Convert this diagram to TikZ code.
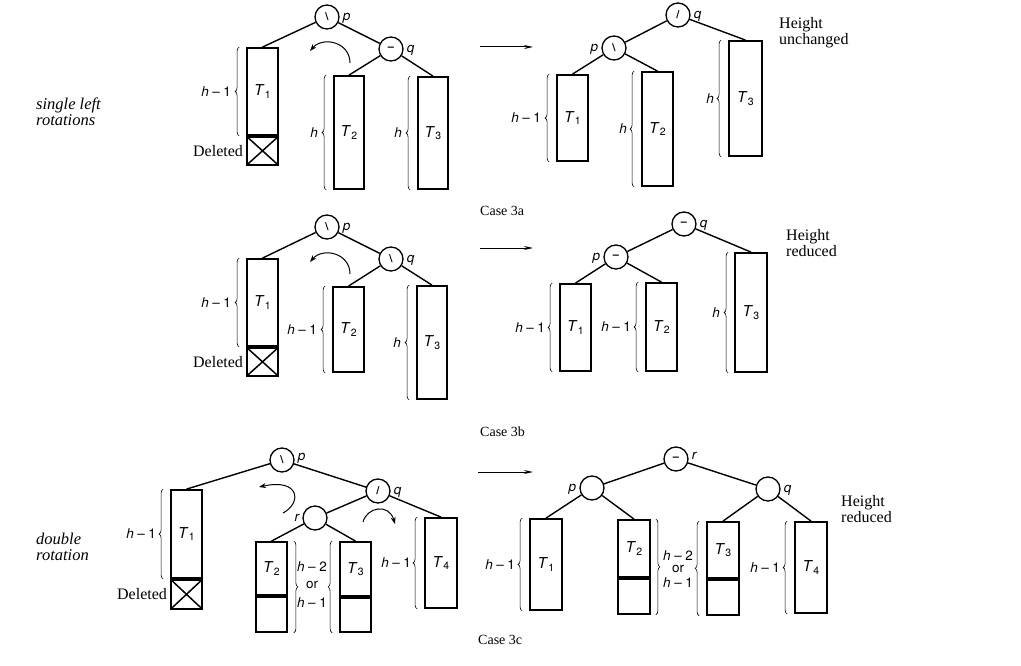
\documentclass[tikz,border=0pt]{standalone}
\usepackage{fontspec}
\setmainfont{Liberation Serif}
\setsansfont{TeX Gyre Heros}
\usetikzlibrary{arrows.meta,decorations.pathreplacing}
\newcommand\Tl[1]{\textit{T}\kern0.3pt\raisebox{-2.5pt}{\fontsize{10.5}{10.5}\selectfont #1}}
\newcommand\hm[1]{\textit{h}\hspace{3.5pt}\textendash\hspace{3.5pt}#1}
\begin{document}
\begin{tikzpicture}[x=1pt,y=-1pt,
 nd/.style={circle,draw,line width=1.3pt,minimum size=24pt,inner sep=0pt,font=\sffamily\bfseries\fontsize{11}{11}\selectfont},
 tb/.style={draw,line width=1.8pt,minimum width=31pt,inner sep=0pt,font=\sffamily\fontsize{15}{15}\selectfont},
 db/.style={draw,line width=1.8pt,minimum width=31pt,inner sep=0pt,
   path picture={\draw[line width=1.5pt] (path picture bounding box.north west) -- (path picture bounding box.south east)
     (path picture bounding box.north east) -- (path picture bounding box.south west);}},
 ed/.style={line width=1.4pt},
 brc/.style={decorate,decoration={brace,amplitude=4pt},line width=0.6pt},
 lbl/.style={font=\sffamily\fontsize{13.5}{13.5}\selectfont,inner sep=0pt},
 nl/.style={font=\sffamily\itshape\fontsize{13.5}{13.5}\selectfont,inner sep=0pt},
 stx/.style={font=\fontsize{16}{16}\selectfont,align=left,inner sep=0pt},
 cse/.style={font=\fontsize{14}{14}\selectfont,inner sep=0pt},
 side/.style={font=\itshape\fontsize{16.5}{16}\selectfont,align=left,inner sep=0pt},
 del/.style={font=\fontsize{16}{16}\selectfont,inner sep=0pt},
 rot/.style={line width=1pt,-{Stealth[length=7pt,width=5pt]}},
 mv/.style={line width=1pt,-{Stealth[length=9pt,width=4pt]}}
]
\useasboundingbox (0,0) rectangle (1021,666);

% ---------------- side labels
\node[side,anchor=north west] (sl) at (36,98) {single left\\rotations};
\node[side,anchor=north west] (dr) at (36,533) {double\\rotation};

% ================= Case 3a, left
\node[nd] (p1) at (327,17) {\textbackslash};
\node[nd] (q1) at (391,49) {\textendash};
\node[nl,anchor=base west] (lp1) at ([xshift=3pt,yshift=-3.5pt]p1.east) {p};
\node[nl,anchor=base west] (lq1) at ([xshift=3pt,yshift=-3.5pt]q1.east) {q};
\node[tb,minimum height=87pt] (T1a) at (262.5,91.5) {\Tl1};
\node[db,minimum height=28pt,anchor=north] (D1) at (T1a.south) {};
\node[tb,minimum height=113pt,minimum width=30pt] (T2a) at (349,132.5) {\Tl2};
\node[tb,minimum height=112pt,minimum width=30pt] (T3a) at (433,133) {\Tl3};
\draw[ed] (p1) -- (T1a.north);
\draw[ed] (p1) -- (q1);
\draw[ed] (q1) -- (T2a.north);
\draw[ed] (q1) -- (T3a.north);
\draw[brc] ([xshift=-7pt]T1a.south west) -- ([xshift=-7pt]T1a.north west);
\draw[brc] ([xshift=-7pt]T2a.south west) -- ([xshift=-7pt]T2a.north west);
\draw[brc] ([xshift=-7pt]T3a.south west) -- ([xshift=-7pt]T3a.north west);
\node[lbl,anchor=east] (h1a) at ([xshift=-15pt]T1a.west) {\hm1};
\node[lbl,anchor=east] (h2a) at ([xshift=-15pt]T2a.west) {\textit{h}};
\node[lbl,anchor=east] (h3a) at ([xshift=-15pt]T3a.west) {\textit{h}};
\node[del,anchor=east] (dl1) at ([xshift=-3pt]D1.west) {Deleted};
\draw[rot] (350,63) .. controls (350,42) and (323,36) .. (310,51);
\coordinate (a1s) at (480,47);
\coordinate (a1e) at (533,47);
\draw[mv] (a1s) -- (a1e);

% ================= Case 3a, right
\node[nd] (q2) at (678,15) {/};
\node[nd] (p2) at (614,48) {\textbackslash};
\node[nl,anchor=base west] (lq2) at ([xshift=3pt,yshift=-3.5pt]q2.east) {q};
\node[nl,anchor=base east] (lp2) at ([xshift=-3pt,yshift=-3.5pt]p2.west) {p};
\node[tb,minimum height=86pt] (T1b) at (572.5,118) {\Tl1};
\node[tb,minimum height=114pt] (T2b) at (657.5,129) {\Tl2};
\node[tb,minimum height=115pt,minimum width=33pt] (T3b) at (745.5,98.5) {\Tl3};
\draw[ed] (q2) -- (p2);
\draw[ed] (p2) -- (T1b.north);
\draw[ed] (p2) -- (T2b.north);
\draw[ed] (q2) -- (T3b.north);
\draw[brc] ([xshift=-7pt]T1b.south west) -- ([xshift=-7pt]T1b.north west);
\draw[brc] ([xshift=-7pt]T2b.south west) -- ([xshift=-7pt]T2b.north west);
\draw[brc] ([xshift=-7pt]T3b.south west) -- ([xshift=-7pt]T3b.north west);
\node[lbl,anchor=east] (h1b) at ([xshift=-15pt]T1b.west) {\hm1};
\node[lbl,anchor=east] (h2b) at ([xshift=-14pt]T2b.west) {\textit{h}};
\node[lbl,anchor=east] (h3b) at ([xshift=-14pt]T3b.west) {\textit{h}};
\node[stx,anchor=north west] (hu) at (779,17) {Height\\unchanged};
\node[cse,anchor=west] (c3a) at (480,211) {Case 3a};

% ================= Case 3b, left
\node[nd] (p3) at (327,227) {\textbackslash};
\node[nd] (q3) at (391,259) {\textbackslash};
\node[nl,anchor=base west] (lp3) at ([xshift=3pt,yshift=-3.5pt]p3.east) {p};
\node[nl,anchor=base west] (lq3) at ([xshift=3pt,yshift=-3.5pt]q3.east) {q};
\node[tb,minimum height=87pt] (T1c) at (262.5,302.5) {\Tl1};
\node[db,minimum height=28pt,anchor=north] (D3) at (T1c.south) {};
\node[tb,minimum height=85pt] (T2c) at (348.5,329.5) {\Tl2};
\node[tb,minimum height=113pt,minimum width=30pt] (T3c) at (432,342.5) {\Tl3};
\draw[ed] (p3) -- (T1c.north);
\draw[ed] (p3) -- (q3);
\draw[ed] (q3) -- (T2c.north);
\draw[ed] (q3) -- (T3c.north);
\draw[brc] ([xshift=-7pt]T1c.south west) -- ([xshift=-7pt]T1c.north west);
\draw[brc] ([xshift=-7pt]T2c.south west) -- ([xshift=-7pt]T2c.north west);
\draw[brc] ([xshift=-7pt]T3c.south west) -- ([xshift=-7pt]T3c.north west);
\node[lbl,anchor=east] (h1c) at ([xshift=-15pt]T1c.west) {\hm1};
\node[lbl,anchor=east] (h2c) at ([xshift=-15pt]T2c.west) {\hm1};
\node[lbl,anchor=east] (h3c) at ([xshift=-15pt]T3c.west) {\textit{h}};
\node[del,anchor=east] (dl3) at ([xshift=-3pt]D3.west) {Deleted};
\draw[rot] (350,274) .. controls (350,253) and (323,247) .. (310,262);
\coordinate (a2s) at (480,248);
\coordinate (a2e) at (533,248);
\draw[mv] (a2s) -- (a2e);

% ================= Case 3b, right
\node[nd] (q4) at (684,224) {\textendash};
\node[nd] (p4) at (616,257) {\textendash};
\node[nl,anchor=base west] (lq4) at ([xshift=3pt,yshift=-3.5pt]q4.east) {q};
\node[nl,anchor=base east] (lp4) at ([xshift=-3pt,yshift=-3.5pt]p4.west) {p};
\node[tb,minimum height=87pt] (T1d) at (575.5,327.5) {\Tl1};
\node[tb,minimum height=88pt] (T2d) at (661.5,327) {\Tl2};
\node[tb,minimum height=119pt,minimum width=32pt] (T3d) at (751,312.5) {\Tl3};
\draw[ed] (q4) -- (p4);
\draw[ed] (p4) -- (T1d.north);
\draw[ed] (p4) -- (T2d.north);
\draw[ed] (q4) -- (T3d.north);
\draw[brc] ([xshift=-7pt]T1d.south west) -- ([xshift=-7pt]T1d.north west);
\draw[brc] ([xshift=-7pt]T2d.south west) -- ([xshift=-7pt]T2d.north west);
\draw[brc] ([xshift=-6pt]T3d.south west) -- ([xshift=-6pt]T3d.north west);
\node[lbl,anchor=east] (h1d) at ([xshift=-14pt]T1d.west) {\hm1};
\node[lbl,anchor=east] (h2d) at ([xshift=-14pt]T2d.west) {\hm1};
\node[lbl,anchor=east] (h3d) at ([xshift=-14pt]T3d.west) {\textit{h}};
\node[stx,anchor=north west] (hr1) at (786,229) {Height\\reduced};
\node[cse,anchor=west] (c3b) at (480,432) {Case 3b};

% ================= Case 3c, left
\node[nd] (p5) at (282,460) {\textbackslash};
\node[nd] (q5) at (378,491) {/};
\node[nd] (r5) at (315,518) {};
\node[nl,anchor=base west] (lp5) at ([xshift=3pt,yshift=0pt]p5.east) {p};
\node[nl,anchor=base west] (lq5) at ([xshift=3pt,yshift=-3.5pt]q5.east) {q};
\node[nl,anchor=base east] (lr5) at ([xshift=-3pt,yshift=-3.5pt]r5.west) {r};
\node[tb,minimum height=88pt] (T1e) at (186.5,534) {\Tl1};
\node[db,minimum height=29pt,anchor=north] (D5) at (T1e.south) {};
\node[tb,minimum height=53pt] (T2e) at (271.5,568.5) {\Tl2};
\node[tb,minimum height=35pt,anchor=north] (T2el) at (T2e.south) {};
\node[tb,minimum height=54pt] (T3e) at (355.5,569) {\Tl3};
\node[tb,minimum height=34pt,anchor=north] (T3el) at (T3e.south) {};
\node[tb,minimum height=90pt,minimum width=32pt] (T4e) at (441,563) {\Tl4};
\draw[ed] (p5) -- (T1e.north);
\draw[ed] (p5) -- (q5);
\draw[ed] (q5) -- (r5);
\draw[ed] (r5) -- (T2e.north);
\draw[ed] (r5) -- (T3e.north);
\draw[ed] (q5) -- (T4e.north);
\draw[brc] ([xshift=-7pt]T1e.south west) -- ([xshift=-7pt]T1e.north west);
\draw[brc] ([xshift=6pt]T2e.north east) -- ([xshift=6pt]T2el.south east);
\draw[brc] ([xshift=-7pt]T3el.south west) -- ([xshift=-7pt]T3e.north west);
\draw[brc] ([xshift=-7pt]T4e.south west) -- ([xshift=-7pt]T4e.north west);
\node[lbl,anchor=east] (h1e) at ([xshift=-14pt]T1e.west) {\hm1};
\node[lbl] (m1e) at (312,567) {\hm2};
\node[lbl] (m2e) at (312,585) {or};
\node[lbl] (m3e) at (312,603) {\hm1};
\node[lbl,anchor=east] (h4e) at ([xshift=-13pt]T4e.west) {\hm1};
\node[del,anchor=east] (dl5) at ([xshift=-3pt]D5.west) {Deleted};
\draw[rot] (283,513) .. controls (302,503) and (300,478) .. (259,487);
\draw[rot] (363,522) .. controls (367,507) and (389,503) .. (395,524);
\coordinate (a3s) at (478,472);
\coordinate (a3e) at (533,472);
\draw[mv] (a3s) -- (a3e);

% ================= Case 3c, right
\node[nd] (r6) at (676,459) {\textendash};
\node[nd] (p6) at (592,488) {};
\node[nd] (q6) at (768,489) {};
\node[nl,anchor=base west] (lr6) at ([xshift=3pt,yshift=0pt]r6.east) {r};
\node[nl,anchor=base east] (lp6) at ([xshift=-3pt,yshift=-3.5pt]p6.west) {p};
\node[nl,anchor=base west] (lq6) at ([xshift=3pt,yshift=-3.5pt]q6.east) {q};
\node[tb,minimum height=91pt,minimum width=32pt] (T1f) at (546,564.5) {\Tl1};
\node[tb,minimum height=57pt,minimum width=32pt] (T2f) at (634,548.5) {\Tl2};
\node[tb,minimum height=35pt,minimum width=32pt,anchor=north] (T2fl) at (T2f.south) {};
\node[tb,minimum height=56pt,minimum width=32pt] (T3f) at (723,550) {\Tl3};
\node[tb,minimum height=35pt,minimum width=32pt,anchor=north] (T3fl) at (T3f.south) {};
\node[tb,minimum height=91pt,minimum width=32pt] (T4f) at (811,567.5) {\Tl4};
\draw[ed] (r6) -- (p6);
\draw[ed] (r6) -- (q6);
\draw[ed] (p6) -- (T1f.north);
\draw[ed] (p6) -- (T2f.north);
\draw[ed] (q6) -- (T3f.north);
\draw[ed] (q6) -- (T4f.north);
\draw[brc] ([xshift=-7pt]T1f.south west) -- ([xshift=-7pt]T1f.north west);
\draw[brc] ([xshift=5pt]T2f.north east) -- ([xshift=5pt]T2fl.south east);
\draw[brc] ([xshift=-7pt]T3fl.south west) -- ([xshift=-7pt]T3f.north west);
\draw[brc] ([xshift=-7pt]T4f.south west) -- ([xshift=-7pt]T4f.north west);
\node[lbl,anchor=east] (h1f) at ([xshift=-14pt]T1f.west) {\hm1};
\node[lbl] (m1f) at (678,556) {\hm2};
\node[lbl] (m2f) at (678,569) {or};
\node[lbl] (m3f) at (678,583) {\hm1};
\node[lbl,anchor=east] (h4f) at ([xshift=-14pt]T4f.west) {\hm1};
\node[stx,anchor=north west] (hr2) at (841,495) {Height\\reduced};
\node[cse,anchor=west] (c3c) at (478,640) {Case 3c};
\end{tikzpicture}
\end{document}
